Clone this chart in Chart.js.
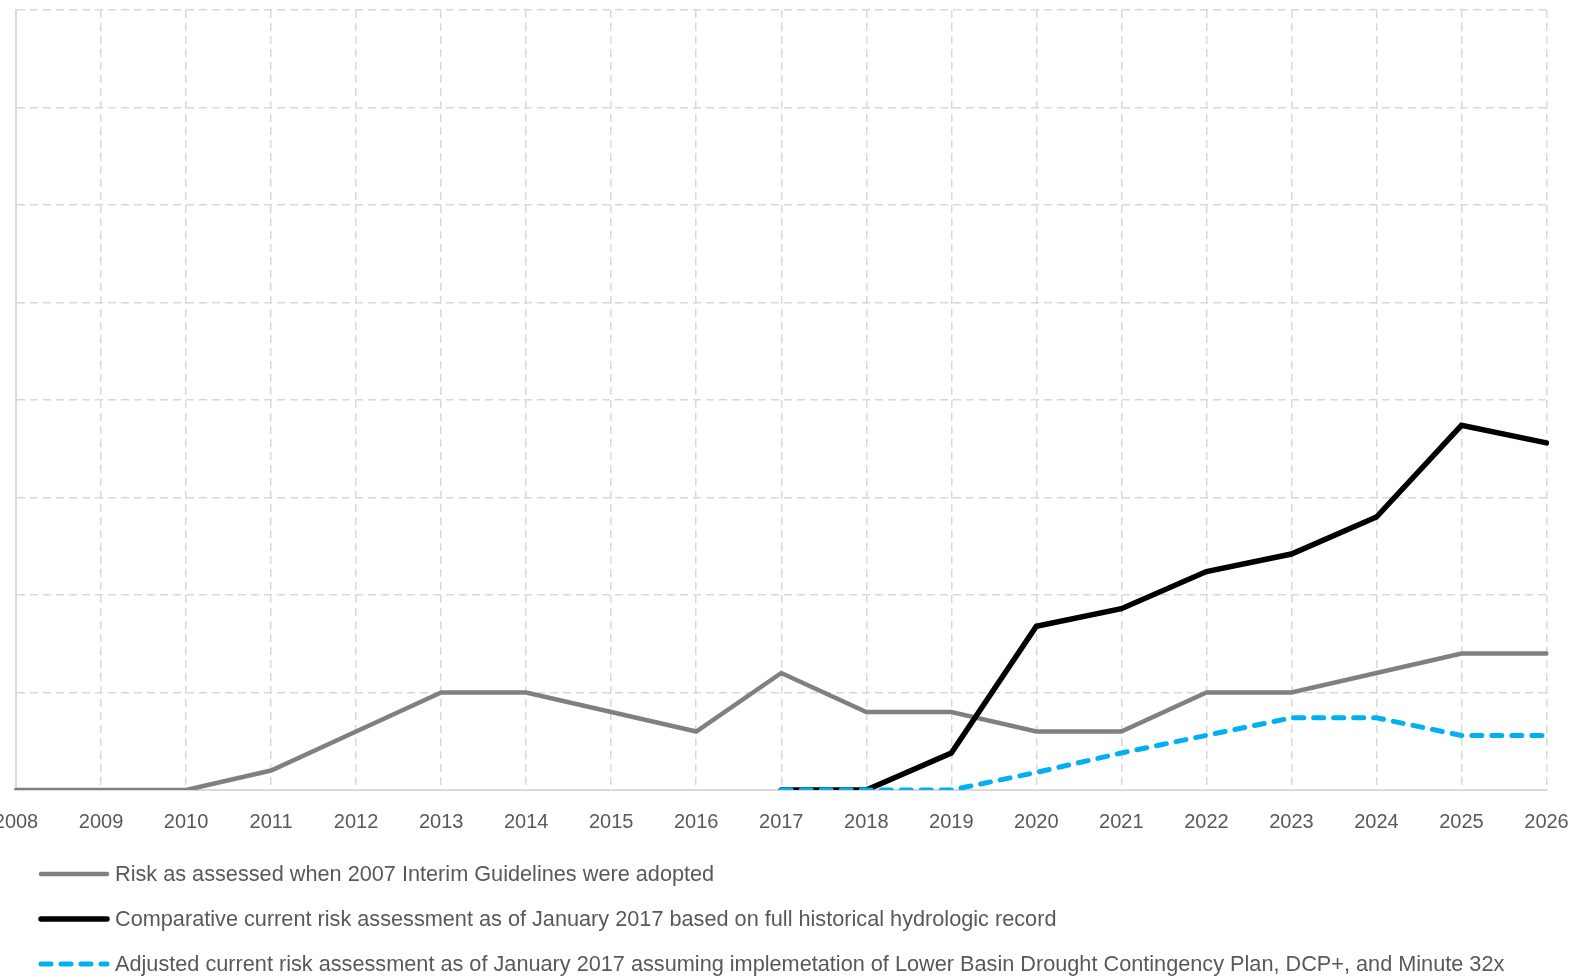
<!DOCTYPE html>
<html>
<head>
<meta charset="utf-8">
<script src="https://cdn.jsdelivr.net/npm/chart.js"></script>
<style>
    body { margin: 0; background: #fff; overflow: hidden; width: 1575px; height: 977px; position: relative; }
    #wrap { position: absolute; left: -40px; top: 0; width: 1640px; height: 854px; }
    #legend { position: absolute; left: 38px; top: 851px; font-family: "Liberation Sans", Arial, sans-serif; font-size: 21.7px; color: #595959; }
    .item { height: 45px; display: flex; align-items: center; }
    .item svg { margin-right: 5px; }
</style>
</head>
<body>
<div id="wrap"><canvas id="c"></canvas></div>
<div id="legend"></div>
<script>
const years = ["2008", "2009", "2010", "2011", "2012", "2013", "2014", "2015", "2016", "2017",
    "2018", "2019", "2020", "2021", "2022", "2023", "2024", "2025", "2026"];

const interim2007 = [0, 0, 0, 1, 3, 5, 5, 4, 3, 6, 4, 4, 3, 3, 5, 5, 6, 7, 7];
const fullRecord = [null, null, null, null, null, null, null, null, null, 0, 0, 1.9, 8.4, 9.3, 11.2, 12.1, 14.0, 18.7, 17.8];
const withDcp = [null, null, null, null, null, null, null, null, null, 0, 0, 0, 0.9, 1.9, 2.8, 3.7, 3.7, 2.8, 2.8];

const seriesNames = [
    "Risk as assessed when 2007 Interim Guidelines were adopted",
    "Comparative current risk assessment as of January 2017 based on full historical hydrologic record",
    "Adjusted current risk assessment as of January 2017 assuming implemetation of Lower Basin Drought Contingency Plan, DCP+, and Minute 32x"
];

const gridCol = "#d9d9d9";

const sets = [
    { label: seriesNames[0], data: interim2007, borderColor: "#808080", borderWidth: 4.5, borderDash: [], order: 2 },
    { label: seriesNames[1], data: fullRecord, borderColor: "#000000", borderWidth: 5.5, borderDash: [], order: 1 },
    { label: seriesNames[2], data: withDcp, borderColor: "#00b0f0", borderWidth: 5, borderDash: [10, 10], order: 0 }
];

new Chart(document.getElementById("c"), {
    type: "line",
    data: {
        labels: years,
        datasets: sets.map(s => ({
            label: s.label,
            data: s.data,
            borderColor: s.borderColor,
            borderWidth: s.borderWidth,
            borderDash: s.borderDash,
            borderCapStyle: "round",
            borderJoinStyle: "miter",
            pointRadius: 0,
            tension: 0,
            fill: false,
            order: s.order
        }))
    },
    options: {
        responsive: true,
        maintainAspectRatio: false,
        animation: false,
        layout: { padding: { left: 56, right: 53.5, top: 10, bottom: 0 } },
        plugins: { legend: { display: false }, tooltip: { enabled: false } },
        scales: {
            x: {
                offset: false,
                grid: { color: gridCol, lineWidth: 1.5, drawTicks: false },
                // in v4 border.dash is what dashes the grid lines; the axis line stays solid
                border: { display: true, color: gridCol, width: 2, dash: [8, 5] },
                ticks: { color: "#595959", padding: 20, maxRotation: 0, autoSkip: false,
                    font: { family: "'Liberation Sans', Arial, sans-serif", size: 20 } }
            },
            y: {
                min: 0,
                max: 40,
                grid: { color: gridCol, lineWidth: 1.5, drawTicks: false },
                border: { display: true, color: gridCol, width: 2, dash: [8, 5] },
                ticks: { display: false, stepSize: 5 }
            }
        }
    }
});

const legend = document.getElementById("legend");
sets.forEach(s => {
    const row = document.createElement("div");
    row.className = "item";
    const dash = s.borderDash.length ? `stroke-dasharray="${s.borderDash.join(" ")}"` : "";
    row.innerHTML = `<svg width="72" height="10"><line x1="3" y1="5" x2="69" y2="5" stroke="${s.borderColor}" stroke-width="${s.borderWidth}" stroke-linecap="round" ${dash}/></svg><span>${s.label}</span>`;
    legend.appendChild(row);
});
</script>
</body>
</html>
